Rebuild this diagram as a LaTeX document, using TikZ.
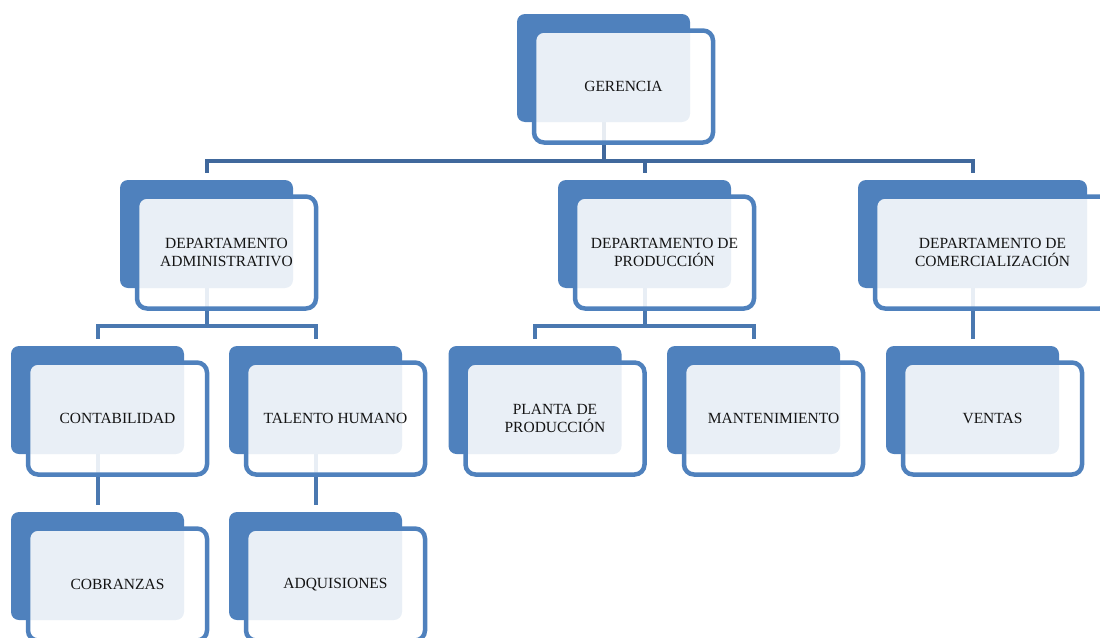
\documentclass[tikz,border=0pt]{standalone}
\usepackage{fontspec}
\setmainfont{Liberation Serif}
\usetikzlibrary{calc}
\pgfdeclarelayer{bg}
\pgfsetlayers{bg,main}

\definecolor{boxblue}{RGB}{79,129,189}
\definecolor{linktop}{RGB}{64,104,156}
\definecolor{linklow}{RGB}{74,120,176}
\definecolor{textdark}{RGB}{20,20,20}

\tikzset{
  backbox/.style={rectangle, rounded corners=8pt, fill=boxblue,
    minimum width=#1, minimum height=108pt, inner sep=0pt, outer sep=0pt},
  backbox/.default=173pt,
  frontbox/.style={rectangle, rounded corners=10pt, draw=boxblue, line width=4.5pt,
    fill=white, fill opacity=0.88, text opacity=1, text=textdark,
    minimum width=#1, minimum height=112pt, inner sep=0pt, outer sep=0pt,
    align=center, font=\fontsize{15.5pt}{18pt}\selectfont},
  frontbox/.default=179pt,
  linkA/.style={draw=linktop, line width=4pt, shorten >=7pt},
  linkB/.style={draw=linklow, line width=4pt, shorten >=7pt},
}

\newcommand{\orgbox}[4][173pt]{%
  % #2 name, #3 centre of the filled back panel, #4 label
  \node[backbox=#1] (#2B) at #3 {};
  \node[frontbox=\dimexpr#1+6pt\relax] (#2) at ($#3+(20,18.5)$) {#4};
}

\begin{document}
\begin{tikzpicture}[x=1pt,y=-1pt]
  \clip (0,0) rectangle (1100,637);

  % top level
  \orgbox{ger}{(603.5,68)}{GERENCIA}

  % departments
  \orgbox{adm}{(206.5,234)}{DEPARTAMENTO\\ADMINISTRATIVO}
  \orgbox{pro}{(644.5,234)}{DEPARTAMENTO DE\\PRODUCCIÓN}
  \orgbox[229pt]{com}{(972.5,234)}{DEPARTAMENTO DE\\COMERCIALIZACIÓN}

  % sections
  \orgbox{cont}{(97.5,400)}{CONTABILIDAD}
  \orgbox{tal}{(315.5,400)}{TALENTO HUMANO}
  \orgbox{pla}{(535,400)}{PLANTA DE\\PRODUCCIÓN}
  \orgbox{man}{(753.5,400)}{MANTENIMIENTO}
  \orgbox{ven}{(972.5,400)}{VENTAS}

  % units
  \orgbox{cob}{(97.5,566)}{COBRANZAS}
  \orgbox{adq}{(315.5,566)}{ADQUISIONES}

  \coordinate (barA) at (0,161);
  \coordinate (barB) at (0,326);

  \begin{pgfonlayer}{bg}
    \draw[linkA] (gerB.south) -- (gerB.south |- barA) -| (admB.north);
    \draw[linkA] (gerB.south |- barA) -| (proB.north);
    \draw[linkA] (gerB.south |- barA) -| (comB.north);

    \draw[linkB] (admB.south) -- (admB.south |- barB) -| (contB.north);
    \draw[linkB] (admB.south |- barB) -| (talB.north);
    \draw[linkB] (proB.south) -- (proB.south |- barB) -| (plaB.north);
    \draw[linkB] (proB.south |- barB) -| (manB.north);
    \draw[linkB] (comB.south) -- (venB.north);

    \draw[linkB] (contB.south) -- (cobB.north);
    \draw[linkB] (talB.south) -- (adqB.north);
  \end{pgfonlayer}
\end{tikzpicture}
\end{document}
